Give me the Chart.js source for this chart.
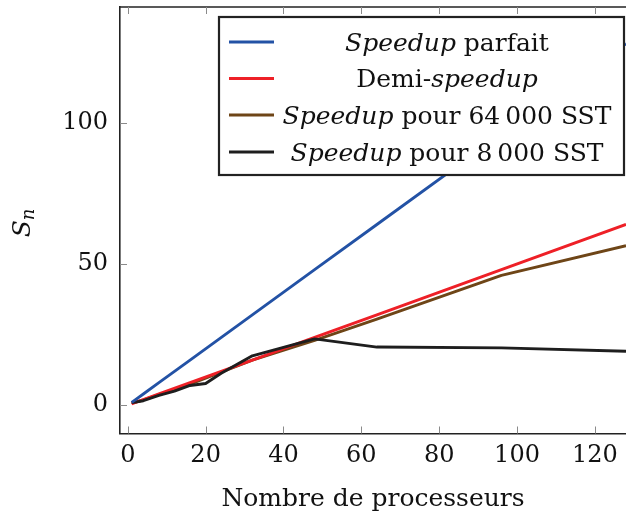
<!DOCTYPE html>
<html>
<head>
<meta charset="utf-8">
<script src="https://cdn.jsdelivr.net/npm/chart.js@4.4.1/dist/chart.umd.min.js"></script>
<style>
  html, body { margin: 0; padding: 0; background: #fff; }
</style>
</head>
<body>
<canvas id="speedupChart" width="626" height="517"></canvas>
<script>
// data
const xTicks = [0, 20, 40, 60, 80, 100, 120];
const yTicks = [0, 50, 100];

const procs = [1, 2, 4, 8, 16, 32, 48, 64, 96, 128];
const perfectSpeedup = [1, 2, 4, 8, 16, 32, 48, 64, 96, 128];
const halfSpeedup = [0.5, 1, 2, 4, 8, 16, 24, 32, 48, 64];
const speedup64k = [1, 1.1, 1.9, 3.8, 7.5, 16, 23, 30.5, 46, 56.5];

const procs8k = [1, 2, 4, 8, 12, 16, 20, 24, 32, 48, 64, 96, 128];
const speedup8k = [1, 1.1, 1.6, 3.5, 5, 7, 7.7, 11.3, 17.5, 23.5, 20.6, 20.3, 19.1];

// legend text pieces: [text, italic]
const legendParts = [
  [['Speedup', true], [' parfait', false]],
  [['Demi-', false], ['speedup', true]],
  [['Speedup', true], [' pour 64\u2009000 SST', false]],
  [['Speedup', true], [' pour 8\u2009000 SST', false]]
];

const colors = ['#2352a5', '#ee2027', '#6e4517', '#1e1e1e'];
const serif = '"DejaVu Serif", serif';
const tickSize = 24;
const textSize = 25;
const textColor = '#111';

function toPoints(xs, ys) {
  return xs.map((x, i) => ({ x: x, y: ys[i] }));
}

// draws the top frame line, inward ticks, the S_n label and the boxed legend
const decorations = {
  id: 'decorations',
  afterDatasetsDraw(chart) {
    const ctx = chart.ctx;
    const area = chart.chartArea;
    const xs = chart.scales.x;
    const ys = chart.scales.y;
    ctx.save();

    // top frame
    ctx.strokeStyle = '#222';
    ctx.lineWidth = 1.6;
    ctx.beginPath();
    ctx.moveTo(area.left, area.top);
    ctx.lineTo(area.right, area.top);
    ctx.stroke();

    // inner tick marks
    ctx.strokeStyle = '#8a8a8a';
    ctx.lineWidth = 1;
    ctx.beginPath();
    xTicks.forEach(v => {
      const px = Math.round(xs.getPixelForValue(v)) + 0.5;
      ctx.moveTo(px, area.bottom);
      ctx.lineTo(px, area.bottom - 7);
      ctx.moveTo(px, area.top);
      ctx.lineTo(px, area.top + 7);
    });
    yTicks.forEach(v => {
      const py = Math.round(ys.getPixelForValue(v)) + 0.5;
      ctx.moveTo(area.left, py);
      ctx.lineTo(area.left + 7, py);
    });
    ctx.stroke();

    // y axis title S_n
    ctx.fillStyle = textColor;
    ctx.translate(22, 223);
    ctx.rotate(-Math.PI / 2);
    ctx.textBaseline = 'alphabetic';
    ctx.font = 'italic ' + textSize + 'px ' + serif;
    const sw = ctx.measureText('S').width;
    ctx.font = 'italic 18px ' + serif;
    const nw = ctx.measureText('n').width;
    const startX = -(sw + nw) / 2;
    ctx.font = 'italic ' + textSize + 'px ' + serif;
    ctx.fillText('S', startX, 8);
    ctx.font = 'italic 18px ' + serif;
    ctx.fillText('n', startX + sw, 12);
    ctx.setTransform(1, 0, 0, 1, 0, 0);

    // legend box
    const box = { left: 219, top: 17, right: 624, bottom: 175 };
    ctx.fillStyle = '#fff';
    ctx.fillRect(box.left, box.top, box.right - box.left, box.bottom - box.top);
    ctx.strokeStyle = '#222';
    ctx.lineWidth = 2.2;
    ctx.strokeRect(box.left, box.top, box.right - box.left, box.bottom - box.top);

    const rowY = [42, 78.5, 115, 152];
    chart.data.datasets.forEach((ds, i) => {
      const y = rowY[i];
      ctx.strokeStyle = ds.borderColor;
      ctx.lineWidth = 2.8;
      ctx.beginPath();
      ctx.moveTo(229, y);
      ctx.lineTo(274, y);
      ctx.stroke();

      const parts = legendParts[i];
      let total = 0;
      parts.forEach(p => {
        ctx.font = (p[1] ? 'italic ' : '') + textSize + 'px ' + serif;
        total += ctx.measureText(p[0]).width;
      });
      let tx = 447 - total / 2;
      ctx.fillStyle = textColor;
      ctx.textAlign = 'left';
      ctx.textBaseline = 'alphabetic';
      parts.forEach(p => {
        ctx.font = (p[1] ? 'italic ' : '') + textSize + 'px ' + serif;
        ctx.fillText(p[0], tx, y + 8.5);
        tx += ctx.measureText(p[0]).width;
      });
    });

    ctx.restore();
  }
};

const ctx = document.getElementById('speedupChart').getContext('2d');
new Chart(ctx, {
  type: 'line',
  data: {
    datasets: [
      { label: 'Speedup parfait', data: toPoints(procs, perfectSpeedup), borderColor: colors[0], order: 0 },
      { label: 'Demi-speedup', data: toPoints(procs, halfSpeedup), borderColor: colors[1], order: 2 },
      { label: 'Speedup pour 64000 SST', data: toPoints(procs, speedup64k), borderColor: colors[2], order: 3 },
      { label: 'Speedup pour 8000 SST', data: toPoints(procs8k, speedup8k), borderColor: colors[3], order: 1 }
    ]
  },
  options: {
    responsive: false,
    animation: false,
    events: [],
    layout: { padding: { top: 7, right: 0, left: 0, bottom: 0 } },
    elements: {
      line: { borderWidth: 2.9, tension: 0, fill: false, borderJoinStyle: 'round' },
      point: { radius: 0 }
    },
    plugins: {
      legend: { display: false },
      tooltip: { enabled: false }
    },
    scales: {
      x: {
        type: 'linear',
        min: -2,
        max: 128,
        afterBuildTicks: scale => { scale.ticks = xTicks.map(v => ({ value: v })); },
        afterFit: scale => {
          scale.height = 83.5;
          scale.paddingLeft = 0;
          scale.paddingRight = 0;
        },
        grid: { display: false, drawTicks: false },
        border: { display: true, color: '#222', width: 1.6 },
        ticks: {
          padding: 8,
          color: textColor,
          maxRotation: 0,
          font: { family: serif, size: tickSize }
        },
        title: {
          display: true,
          text: 'Nombre de processeurs',
          color: textColor,
          padding: { top: 0, bottom: 3 },
          font: { family: serif, size: textSize }
        }
      },
      y: {
        type: 'linear',
        min: -10,
        max: 141,
        afterBuildTicks: scale => { scale.ticks = yTicks.map(v => ({ value: v })); },
        afterFit: scale => {
          scale.width = 120;
          scale.paddingTop = 0;
          scale.paddingBottom = 0;
        },
        grid: { display: false, drawTicks: false },
        border: { display: true, color: '#222', width: 1.6 },
        ticks: {
          padding: 12,
          color: textColor,
          font: { family: serif, size: tickSize }
        }
      }
    }
  },
  plugins: [decorations]
});
</script>
</body>
</html>
